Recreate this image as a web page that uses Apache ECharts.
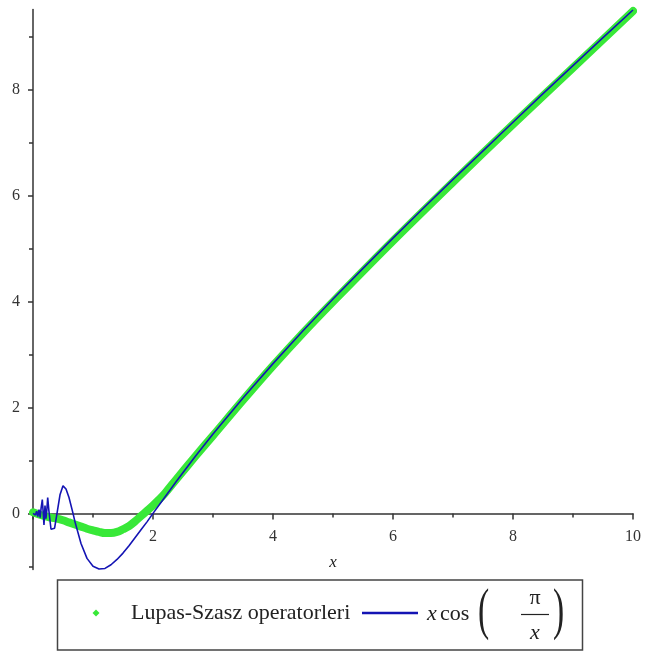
<!DOCTYPE html>
<html><head><meta charset="utf-8">
<script src="https://cdn.jsdelivr.net/npm/echarts@6/dist/echarts.min.js"></script>
<style>html,body{margin:0;padding:0;background:#fff}#c{width:645px;height:652px}</style>
</head><body><div id="c"></div>
<script>
// Blue curve: x cos(pi/x) as sampled in the picture
const blueX = [0, 0.02, 0.04, 0.06, 0.08, 0.1, 0.12, 0.135, 0.155, 0.17, 0.183, 0.2, 0.215, 0.23, 0.245, 0.265, 0.3, 0.333, 0.36, 0.4, 0.45, 0.5, 0.55, 0.6, 0.667, 0.7, 0.8, 0.9, 1.0, 1.1, 1.2, 1.3, 1.4, 1.5, 1.6, 1.7, 1.8, 1.9, 2.0, 2.2, 2.4, 2.7, 3, 3.5, 4, 4.5, 5, 5.5, 6, 6.5, 7, 7.5, 8, 8.5, 9, 9.5, 10];
const blueY = [0, 0.02, -0.03, 0.04, -0.06, 0.07, -0.08, 0.1, 0.26, 0.02, -0.22, 0.15, -0.1, 0.05, 0.3, 0.05, -0.3, -0.32, -0.28, 0, 0.35, 0.52, 0.46, 0.3, 0, -0.16, -0.57, -0.85, -1.0, -1.05, -1.04, -0.97, -0.87, -0.75, -0.61, -0.46, -0.31, -0.16, 0, 0.31, 0.62, 1.07, 1.5, 2.18, 2.83, 3.45, 4.05, 4.63, 5.2, 5.76, 6.31, 6.85, 7.39, 7.93, 8.46, 8.99, 9.51];
// Green curve: Lupas-Szasz operator values
const greenX = [0, 0.1, 0.2, 0.3, 0.4, 0.5, 0.6, 0.7, 0.8, 0.9, 1.0, 1.1, 1.2, 1.3, 1.4, 1.5, 1.6, 1.7, 1.8, 1.9, 2.0, 2.1, 2.2, 2.4, 2.7, 3, 3.5, 4, 4.5, 5, 6, 7, 8, 9, 10];
const greenY = [0.02, -0.02, -0.05, -0.08, -0.1, -0.13, -0.17, -0.21, -0.25, -0.29, -0.32, -0.35, -0.37, -0.37, -0.35, -0.3, -0.24, -0.15, -0.05, 0.05, 0.15, 0.26, 0.38, 0.66, 1.07, 1.47, 2.14, 2.79, 3.41, 4.0, 5.15, 6.26, 7.35, 8.42, 9.49];
const xTickLabels = [2, 4, 6, 8, 10];
const yTickLabels = [0, 2, 4, 6, 8];
const yMinorTicks = [-1, 1, 3, 5, 7, 9];
const seriesNames = ['Lupas-Szasz operatorleri', 'x cos(π/x)'];

const chart = echarts.init(document.getElementById('c'), null, {renderer: 'canvas'});
const serif = '"Liberation Serif", "Times New Roman", serif';
const axisColor = '#333';
const zip = (a, b) => a.map((v, i) => [v, b[i]]);
const yMin = -1.06, yMax = 9.52;
const gridTop = 9.5, gridBottom = 82.5;
const plotH = 652 - gridTop - gridBottom;
const zeroOffset = -plotH * (0 - yMin) / (yMax - yMin); // move x axis up to y = 0

const option = {
  animation: false,
  backgroundColor: '#fff',
  grid: {left: 33, right: 12, top: gridTop, bottom: gridBottom},
  xAxis: {
    type: 'value', min: 0, max: 10, interval: 2, offset: zeroOffset,
    name: 'x', nameLocation: 'middle', nameGap: 41,
    nameTextStyle: {fontFamily: serif, fontStyle: 'italic', fontSize: 17, color: '#222'},
    axisLine: {onZero: false, lineStyle: {color: axisColor, width: 1.5}},
    axisTick: {show: true, length: 6, lineStyle: {color: axisColor, width: 1.5}},
    minorTick: {show: true, splitNumber: 2, length: 4, lineStyle: {color: axisColor, width: 1.5}},
    axisLabel: {fontFamily: serif, fontSize: 16, color: '#333', margin: 15,
      formatter: v => xTickLabels.includes(v) ? String(v) : ''},
    splitLine: {show: false}
  },
  yAxis: [{
    type: 'value', min: yMin, max: yMax,
    axisLine: {onZero: false, lineStyle: {color: axisColor, width: 1.5}},
    axisTick: {show: true, length: 5, customValues: yTickLabels, lineStyle: {color: axisColor, width: 1.5}},
    axisLabel: {fontFamily: serif, fontSize: 16, color: '#333', margin: 13, customValues: yTickLabels},
    splitLine: {show: false}
  }, {
    type: 'value', min: yMin, max: yMax, position: 'left',
    axisLine: {show: false},
    axisTick: {show: true, length: 4, customValues: yMinorTicks, lineStyle: {color: axisColor, width: 1.5}},
    axisLabel: {show: false},
    splitLine: {show: false}
  }],
  series: [{
    name: seriesNames[0], type: 'line', yAxisIndex: 0, data: zip(greenX, greenY),
    showSymbol: false, smooth: 0.35, z: 2,
    lineStyle: {color: '#38e838', width: 8, cap: 'round', join: 'round'}
  }, {
    name: seriesNames[1], type: 'line', yAxisIndex: 0, data: zip(blueX, blueY),
    showSymbol: false, z: 3,
    lineStyle: {color: '#1414b4', width: 1.6}
  }],
  graphic: [
    {type: 'rect', shape: {x: 57.5, y: 580, width: 525, height: 70}, style: {fill: '#fff', stroke: '#444', lineWidth: 1.5}},
    {type: 'polygon', shape: {points: [[96, 609.5], [99.5, 613], [96, 616.5], [92.5, 613]]}, style: {fill: '#38e838'}},
    {type: 'text', x: 131, y: 613, style: {text: seriesNames[0], font: '22px ' + serif, fill: '#222', verticalAlign: 'middle'}},
    {type: 'line', shape: {x1: 362, y1: 613, x2: 418, y2: 613}, style: {stroke: '#1414b4', lineWidth: 2.5}},
    {type: 'text', x: 427, y: 614, style: {text: 'x', font: 'italic 22px ' + serif, fill: '#222', verticalAlign: 'middle'}},
    {type: 'text', x: 440, y: 614, style: {text: 'cos', font: '22px ' + serif, fill: '#222', verticalAlign: 'middle'}},
    {type: 'text', x: 478, y: 613, scaleX: 0.6, style: {text: '(', font: '56px ' + serif, fill: '#222', verticalAlign: 'middle'}},
    {type: 'text', x: 535, y: 598, style: {text: 'π', font: '22px ' + serif, fill: '#222', align: 'center', verticalAlign: 'middle'}},
    {type: 'line', shape: {x1: 521, y1: 614.5, x2: 549, y2: 614.5}, style: {stroke: '#222', lineWidth: 1.2}},
    {type: 'text', x: 535, y: 633, style: {text: 'x', font: 'italic 22px ' + serif, fill: '#222', align: 'center', verticalAlign: 'middle'}},
    {type: 'text', x: 553, y: 613, scaleX: 0.6, style: {text: ')', font: '56px ' + serif, fill: '#222', verticalAlign: 'middle'}}
  ]
};
chart.setOption(option);
</script></body></html>
